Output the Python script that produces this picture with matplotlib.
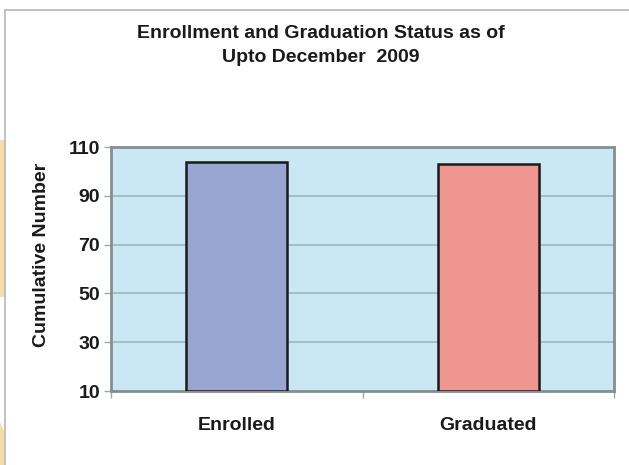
import matplotlib
matplotlib.use('Agg')
import matplotlib.pyplot as plt
from matplotlib.patches import Rectangle, Polygon
from matplotlib.lines import Line2D

categories = ['Enrolled', 'Graduated']
values = [104, 103]
bar_colors = ['#99a6d2', '#ef9690']
yticks = [10, 30, 50, 70, 90, 110]

plt.rcParams['font.family'] = 'Liberation Sans'
plt.rcParams['font.weight'] = 'bold'

fig = plt.figure(figsize=(6.29, 4.65), dpi=100)
ax = fig.add_axes([111/629, 1 - 391/465, 503/629, 244/465])

x = list(range(len(categories)))
ax.bar(x, [v - 10 for v in values], bottom=10, width=0.4, color=bar_colors,
       edgecolor='#1a1a1a', linewidth=1.8, zorder=3)

ax.set_facecolor('#cae8f3')
ax.set_xlim(-0.5, 1.5)
ax.set_ylim(10, 110)
ax.set_yticks(yticks)
ax.set_yticklabels([str(t) for t in yticks], fontsize=14, fontweight='bold', color='#1a1a1a')
ax.yaxis.grid(True, color='#9db6bf', linewidth=1.2, zorder=1)
ax.set_axisbelow(True)

# category boundaries as major ticks, labels on minor ticks
ax.set_xticks([-0.5, 0.5, 1.5])
ax.set_xticklabels(['', '', ''])
ax.set_xticks(x, minor=True)
ax.set_xticklabels(categories, minor=True, fontsize=14, fontweight='bold', color='#1a1a1a')
ax.tick_params(axis='x', which='minor', length=0, pad=19)
ax.tick_params(axis='x', which='major', length=5, color='#a0a6aa', width=1)
ax.tick_params(axis='y', length=5, color='#a0a6aa', width=1, pad=3)

for s in ax.spines.values():
    s.set_color('#868e93')
    s.set_linewidth(2)

fig.text(321/629, 1 - 33/465, 'Enrollment and Graduation Status as of', ha='center', va='center',
         fontsize=14, fontweight='bold', color='#1a1a1a')
fig.text(321/629, 1 - 57/465, 'Upto December  2009', ha='center', va='center',
         fontsize=14, fontweight='bold', color='#1a1a1a')
fig.text(42/629, 1 - 255/465, 'Cumulative Number', ha='center', va='center', rotation=90,
         fontsize=14, fontweight='bold', color='#1a1a1a')

# frame of the embedded chart and page strips on the left
fig.add_artist(Line2D([5/629, 1], [1 - 10/465, 1 - 10/465], color='#b8b8b8', linewidth=1.2))
fig.add_artist(Line2D([5/629, 5/629], [0, 1 - 10/465], color='#b8b8b8', linewidth=1.2))
fig.add_artist(Rectangle((0, 1 - 297/465), 4.5/629, 157/465, color='#f5dcaa', lw=0))
fig.add_artist(Polygon([(0, 0), (4.5/629, 0), (4.5/629, 1 - 432/465), (0, 1 - 422/465)],
                       closed=True, color='#f5dcaa', lw=0))

fig.savefig('out.png', dpi=100)
